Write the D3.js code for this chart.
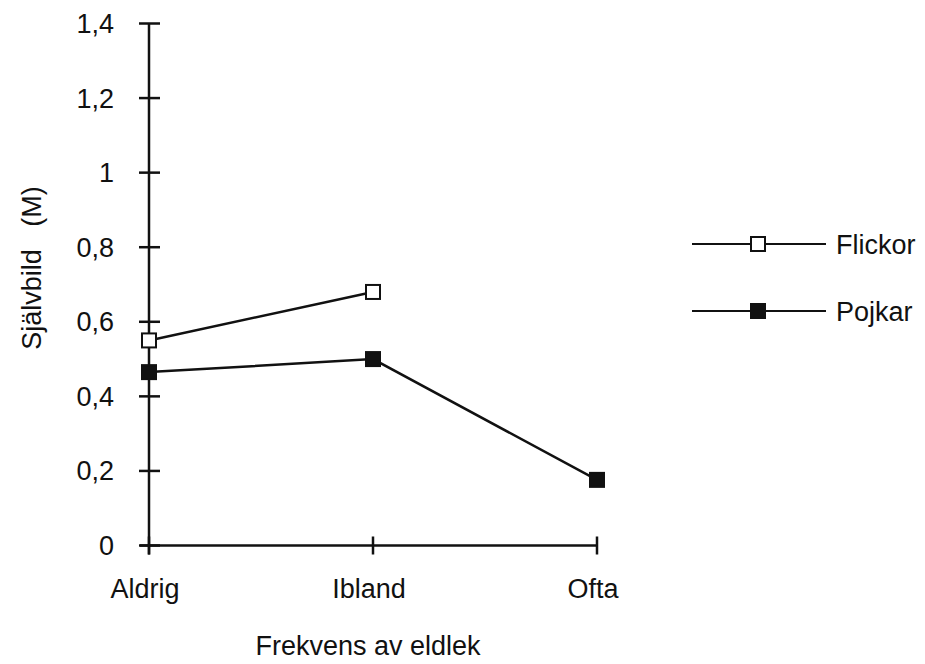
<!DOCTYPE html>
<html><head><meta charset="utf-8">
<script src="https://cdn.jsdelivr.net/npm/d3@7"></script>
<style>body{margin:0;background:#fff}svg{display:block}text{font-family:"Liberation Sans",Arial,sans-serif;fill:#111}</style>
</head><body><svg id="c" width="925" height="664"></svg>
<script>
const categories = ["Aldrig", "Ibland", "Ofta"];
const flickor = [0.55, 0.68, null];
const pojkar = [0.465, 0.50, 0.176];
const yTicks = [0, 0.2, 0.4, 0.6, 0.8, 1, 1.2, 1.4];
const seriesNames = ["Flickor", "Pojkar"];
const xTitle = "Frekvens av eldlek";
const yTitle = "Självbild   (M)";

const svg = d3.select("#c");
const x = d3.scalePoint().domain(categories).range([149, 597]);
const y = d3.scaleLinear().domain([0, 1.4]).range([545.5, 23.5]);
const fmt = d => String(d).replace(".", ",");
const ink = "#111";
const fs = 27;

// y axis
const gy = svg.append("g");
gy.append("line").attr("x1", x(categories[0])).attr("x2", x(categories[0]))
  .attr("y1", y(1.4)).attr("y2", y(0) + 9).attr("stroke", ink).attr("stroke-width", 2.5);
yTicks.forEach(t => {
  gy.append("line").attr("x1", 139).attr("x2", 160).attr("y1", y(t)).attr("y2", y(t))
    .attr("stroke", ink).attr("stroke-width", 2.5);
  gy.append("text").attr("x", 114).attr("y", y(t) + 9.5)
    .attr("text-anchor", "end").attr("font-size", fs).text(fmt(t));
});
// x axis
const gx = svg.append("g");
gx.append("line").attr("x1", x(categories[0]) - 9).attr("x2", x(categories[2]))
  .attr("y1", y(0)).attr("y2", y(0)).attr("stroke", ink).attr("stroke-width", 2.5);
categories.forEach(c => {
  gx.append("line").attr("x1", x(c)).attr("x2", x(c)).attr("y1", y(0) - 9).attr("y2", y(0) + 9)
    .attr("stroke", ink).attr("stroke-width", 2.5);
  gx.append("text").attr("x", x(c) - 4).attr("y", 598).attr("text-anchor", "middle")
    .attr("font-size", fs).text(c);
});
svg.append("text").attr("x", 368).attr("y", 655).attr("text-anchor", "middle")
  .attr("font-size", fs).text(xTitle);
svg.append("text").attr("transform", "translate(41,268) rotate(-90)")
  .attr("text-anchor", "middle").attr("font-size", fs).attr("xml:space", "preserve").text(yTitle);

// series
const series = [
  {name: seriesNames[0], vals: flickor, fill: "#fff"},
  {name: seriesNames[1], vals: pojkar, fill: ink}
];
const line = d3.line().defined(d => d.v != null).x(d => x(d.c)).y(d => y(d.v));
const ms = 14;
series.forEach(s => {
  const pts = categories.map((c, i) => ({c, v: s.vals[i]})).filter(d => d.v != null);
  svg.append("path").datum(pts).attr("d", line).attr("fill", "none")
    .attr("stroke", ink).attr("stroke-width", 2.5);
  svg.selectAll(null).data(pts).enter().append("rect")
    .attr("x", d => x(d.c) - ms / 2).attr("y", d => y(d.v) - ms / 2)
    .attr("width", ms).attr("height", ms)
    .attr("fill", s.fill).attr("stroke", ink).attr("stroke-width", 2);
});

// legend
const legY = [244, 311];
series.forEach((s, i) => {
  const g = svg.append("g");
  g.append("line").attr("x1", 692).attr("x2", 826).attr("y1", legY[i]).attr("y2", legY[i])
    .attr("stroke", ink).attr("stroke-width", 2);
  g.append("rect").attr("x", 758 - 7).attr("y", legY[i] - 7).attr("width", 14).attr("height", 14)
    .attr("fill", s.fill).attr("stroke", ink).attr("stroke-width", 2);
  g.append("text").attr("x", 836).attr("y", legY[i] + 9.5)
    .attr("font-size", fs).text(s.name);
});
</script></body></html>
